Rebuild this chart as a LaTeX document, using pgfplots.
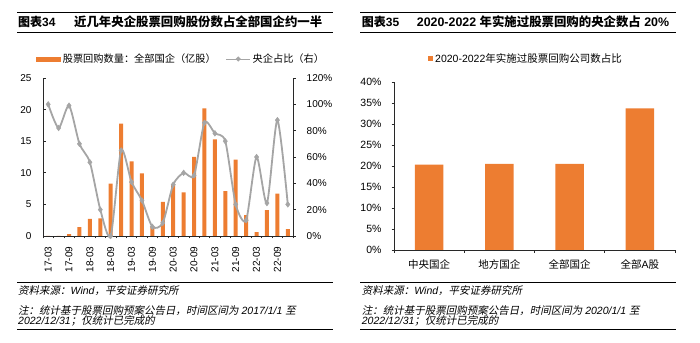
\documentclass[border=0pt]{standalone}
\usepackage{fontspec}
\setmainfont{Liberation Sans}
\newfontfamily\cjk{Noto Sans CJK SC}
\newfontfamily\cjkit{Noto Sans CJK SC}[FakeSlant=0.2]
\usepackage{pgfplots}
\usepackage{pgfplotstable}
\pgfplotsset{compat=1.18}
\definecolor{barorange}{RGB}{237,125,49}
\definecolor{linegray}{RGB}{165,165,165}
\definecolor{axgray}{RGB}{40,40,40}

\pgfplotstableread{
idx val pct
0 0 100
1 0 82
2 0.3 99
3 1.4 70
4 2.7 56
5 2.8 20
6 8.3 0
7 17.8 65
8 11.8 41
9 9.9 27
10 1.5 7
11 5.4 10
12 8.2 39
13 6.9 48
14 12.5 46
15 20.2 86
16 15.3 78
17 7.1 72
18 12.1 24
19 3.3 12
20 0.6 60
21 4.1 25
22 6.7 88
23 1.1 24
}\leftdata

\pgfplotstableread{
idx val
0 20.3
1 20.5
2 20.5
3 33.7
}\rightdata

\begin{document}
\begin{tikzpicture}
\path[use as bounding box] (0,0) rectangle (700bp,343bp);

% ---------- left panel frame ----------
\draw[line width=1.2bp] (17bp,330.7bp) -- (333bp,330.7bp);
\draw[line width=0.8bp] (17bp,311bp) -- (333bp,311bp);
\node[anchor=west,inner sep=0] at (18bp,321bp) {\fontsize{12bp}{14bp}\selectfont\bfseries{\cjk 图表}34};
\node[anchor=west,inner sep=0] at (74bp,321bp) {\fontsize{12.4bp}{14bp}\selectfont\cjk\bfseries 近几年央企股票回购股份数占全部国企约一半};
\draw[line width=0.8bp] (17bp,60.5bp) -- (333bp,60.5bp);
\draw[line width=0.8bp] (17bp,14bp) -- (333bp,14bp);
\node[anchor=west,inner sep=0] at (18bp,52bp) {\fontsize{10.5bp}{12bp}\selectfont{\cjkit 资料来源：}{\itshape Wind}{\cjkit ，平安证券研究所}};
\node[anchor=west,inner sep=0] at (18bp,32.5bp) {\fontsize{10.5bp}{12bp}\selectfont{\cjkit 注：统计基于股票回购预案公告日，时间区间为} {\itshape 2017/1/1} {\cjkit 至}};
\node[anchor=west,inner sep=0] at (18bp,22bp) {\fontsize{10.5bp}{12bp}\selectfont{\itshape 2022/12/31}{\cjkit ；仅统计已完成的}};

% ---------- right panel frame ----------
\draw[line width=1.2bp] (360bp,330.7bp) -- (676bp,330.7bp);
\draw[line width=0.8bp] (360bp,311bp) -- (676bp,311bp);
\node[anchor=west,inner sep=0] at (361.7bp,321bp) {\fontsize{12bp}{14bp}\selectfont\bfseries{\cjk 图表}35};
\node[anchor=west,inner sep=0] at (416.7bp,321bp) {\fontsize{12.4bp}{14bp}\selectfont\bfseries 2020-2022 {\cjk 年实施过股票回购的央企数占} 20\%};
\draw[line width=0.8bp] (360bp,60.5bp) -- (676bp,60.5bp);
\draw[line width=0.8bp] (360bp,14bp) -- (676bp,14bp);
\node[anchor=west,inner sep=0] at (361.7bp,52bp) {\fontsize{10.5bp}{12bp}\selectfont{\cjkit 资料来源：}{\itshape Wind}{\cjkit ，平安证券研究所}};
\node[anchor=west,inner sep=0] at (361.7bp,32.5bp) {\fontsize{10.5bp}{12bp}\selectfont{\cjkit 注：统计基于股票回购预案公告日，时间区间为} {\itshape 2020/1/1} {\cjkit 至}};
\node[anchor=west,inner sep=0] at (361.7bp,22bp) {\fontsize{10.5bp}{12bp}\selectfont{\itshape 2022/12/31}{\cjkit ；仅统计已完成的}};

% ---------- left chart: bars ----------
\begin{axis}[
  at={(43bp,107bp)}, anchor=south west, scale only axis,
  width=250bp, height=158bp,
  xmin=-0.5, xmax=23.5, ymin=0, ymax=25,
  axis x line*=bottom, axis y line*=left,
  axis line style={-, draw=axgray, line width=0.8bp},
  ytick={0,5,10,15,20,25}, yticklabels={0,5,10,15,20,25},
  xtick={0,2,...,22},
  xticklabels={17-03,17-09,18-03,18-09,19-03,19-09,20-03,20-09,21-03,21-09,22-03,22-09},
  minor xtick={-0.5,0.5,...,23.5},
  tick align=inside, major tick length=2.5bp, minor tick length=2.5bp,
  tick style={draw=axgray, line width=0.6bp},
  major x tick style={draw=none},
  xticklabel style={rotate=90, anchor=east, font=\fontsize{10bp}{12bp}\selectfont},
  yticklabel style={font=\fontsize{10bp}{12bp}\selectfont},
  xticklabel shift=4.7bp, yticklabel shift=8bp,
  ybar, bar width=4bp,
]
\addplot[fill=barorange, draw=none] table[x=idx,y=val]{\leftdata};
\end{axis}

% ---------- left chart: line (right axis) ----------
\begin{axis}[
  at={(43bp,107bp)}, anchor=south west, scale only axis,
  width=250bp, height=158bp,
  xmin=-0.5, xmax=23.5, ymin=0, ymax=120,
  axis y line*=right, axis x line=none,
  axis line style={-, draw=axgray, line width=0.8bp},
  ytick={0,20,40,60,80,100,120},
  yticklabels={0\%,20\%,40\%,60\%,80\%,100\%,120\%},
  tick align=outside, major tick length=2.5bp,
  tick style={draw=axgray, line width=0.6bp},
  yticklabel style={font=\fontsize{10bp}{12bp}\selectfont},
  yticklabel shift=7.7bp,
  clip=false,
  legend columns=2,
  legend style={at={(0.553,1.12)}, anchor=center, draw=none, fill=none,
    font=\fontsize{10.2bp}{12bp}\selectfont\cjk,
    /tikz/every even column/.append style={column sep=8bp}},
]
\addlegendimage{legend image code/.code={\fill[barorange] (0bp,-2bp) rectangle (24bp,2bp);}}
\addlegendentry{股票回购数量：全部国企（亿股）}
\addplot[linegray, line width=1.8bp, smooth, tension=0.42, mark=diamond*, mark size=2.8bp,
  mark options={fill=linegray, draw=linegray, line width=0.5bp},
  legend image code/.code={\draw[linegray, line width=0.9bp] (0bp,0bp) -- (24bp,0bp);
     \fill[linegray] (12bp,0bp) circle (1.3bp);}]
  table[x=idx,y=pct]{\leftdata};
\addlegendentry{央企占比（右）}
\end{axis}

% ---------- right chart ----------
\begin{axis}[
  at={(394bp,93bp)}, anchor=south west, scale only axis,
  width=281bp, height=168bp,
  xmin=-0.5, xmax=3.5, ymin=0, ymax=40,
  axis x line*=bottom, axis y line*=left,
  axis line style={-, draw=axgray, line width=0.8bp},
  ytick={0,5,...,40},
  yticklabels={0\%,5\%,10\%,15\%,20\%,25\%,30\%,35\%,40\%},
  xtick={0,1,2,3},
  xticklabels={{\cjk 中央国企},{\cjk 地方国企},{\cjk 全部国企},{\cjk 全部}A{\cjk 股}},
  minor xtick={-0.5,0.5,1.5,2.5,3.5},
  tick align=outside, major tick length=2.5bp, minor tick length=3bp,
  tick style={draw=axgray, line width=0.6bp},
  major x tick style={draw=none},
  xticklabel style={font=\fontsize{10.5bp}{12bp}\selectfont},
  yticklabel style={font=\fontsize{10.5bp}{12bp}\selectfont},
  xticklabel shift=4bp, yticklabel shift=6.5bp,
  ybar, bar width=28.5bp,
  legend style={at={(0.47,1.137)}, anchor=center, draw=none, fill=none,
    font=\fontsize{10.5bp}{12bp}\selectfont},
]
\addplot[fill=barorange, draw=none,
  legend image code/.code={\fill[barorange] (0bp,-2.5bp) rectangle (5bp,2.5bp);}]
  table[x=idx,y=val]{\rightdata};
\addlegendentry{2020-2022{\cjk 年实施过股票回购公司数占比}}
\end{axis}
\end{tikzpicture}
\end{document}
